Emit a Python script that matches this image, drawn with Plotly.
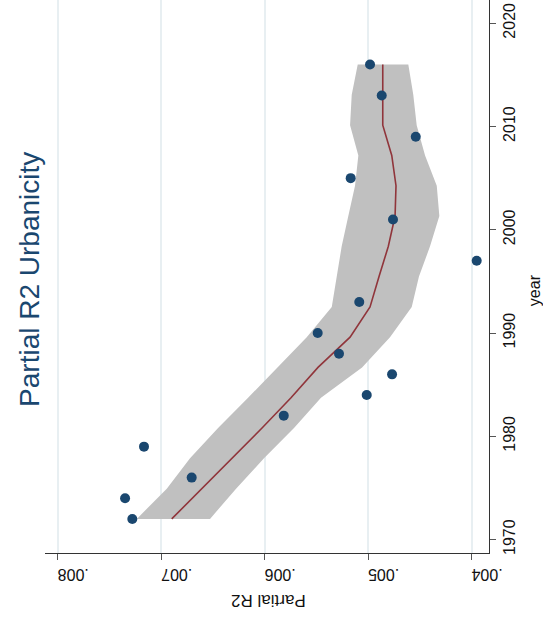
import plotly.graph_objects as go

# Observed partial R2 of urbanicity by survey year
years = [1972, 1974, 1976, 1979, 1982, 1984, 1986, 1988, 1990, 1993,
         1997, 2001, 2005, 2009, 2013, 2016]
partial_r2 = [0.007279, 0.007349, 0.006705, 0.007166, 0.005815, 0.005013,
              0.004768, 0.005281, 0.005487, 0.005085, 0.003950, 0.004759,
              0.005168, 0.004539, 0.004868, 0.004981]

# Local polynomial smooth with 95% CI, evaluated on its own year grid
fit_years = [1972.0, 1974.93, 1977.87, 1980.8, 1983.73, 1986.67, 1989.6, 1992.53,
             1995.47, 1998.4, 2001.33, 2004.27, 2007.2, 2010.13, 2013.07, 2016.0]
fit = [0.006898, 0.006605, 0.006315, 0.006025, 0.005745, 0.005484, 0.005174, 0.004981,
       0.004894, 0.004804, 0.004739, 0.004730, 0.004771, 0.004858, 0.004858, 0.004858]
ci_upper = [0.007236, 0.006946, 0.006721, 0.006450, 0.006160, 0.005880, 0.005593, 0.005351,
            0.005303, 0.005255, 0.005191, 0.005126, 0.005094, 0.005174, 0.005158, 0.005100]
ci_lower = [0.006528, 0.006276, 0.006006, 0.005716, 0.005455, 0.005058, 0.004788, 0.004578,
            0.004508, 0.004401, 0.004311, 0.004336, 0.004449, 0.004530, 0.004563, 0.004611]

r2_ticks = [0.004, 0.005, 0.006, 0.007, 0.008]
r2_labels = [".004", ".005", ".006", ".007", ".008"]
year_ticks = [1970, 1980, 1990, 2000, 2010, 2020]

NAVY = "#1a476f"
MAROON = "#90353b"
FONT = "Liberation Sans, Arial, sans-serif"

fig = go.Figure()

# confidence band as a closed polygon
fig.add_trace(go.Scatter(
    x=ci_upper + ci_lower[::-1],
    y=fit_years + fit_years[::-1],
    fill="toself", fillcolor="#c0c0c0",
    line=dict(width=0), mode="lines", hoverinfo="skip", showlegend=False))

fig.add_trace(go.Scatter(
    x=fit, y=fit_years, mode="lines",
    line=dict(color=MAROON, width=1.6), showlegend=False))

fig.add_trace(go.Scatter(
    x=partial_r2, y=years, mode="markers",
    marker=dict(color=NAVY, size=10), showlegend=False))

fig.update_layout(
    width=543, height=621,
    margin=dict(l=45, r=54, t=0, b=68),
    paper_bgcolor="white", plot_bgcolor="white",
    font=dict(family=FONT, size=16, color="black"),
    xaxis=dict(
        range=[0.008123, 0.003831],
        tickvals=r2_ticks, ticktext=r2_labels, tickangle=180,
        showgrid=True, gridcolor="#e8eff2", gridwidth=1.5,
        zeroline=False, showline=True, linecolor="#333333", linewidth=1.2,
        ticks="outside", ticklen=6, tickcolor="#555555",
        ticklabelstandoff=6,
        tickfont=dict(size=16, color="#111111"),
    ),
    yaxis=dict(
        range=[1968.7, 2022.25], side="right",
        tickvals=year_ticks, tickangle=-90,
        showgrid=False, zeroline=False,
        showline=True, linecolor="#333333", linewidth=1.2,
        ticks="outside", ticklen=6, tickcolor="#555555",
        tickfont=dict(size=16, color="#111111"),
    ),
    annotations=[
        dict(text="Partial R2 Urbanicity", xref="paper", yref="paper",
             x=-0.034, y=0.4955, showarrow=False, textangle=-90,
             xanchor="center", yanchor="middle",
             font=dict(size=28, color=NAVY, family=FONT)),
        dict(text="year", xref="paper", yref="paper",
             x=1.104, y=0.4756, showarrow=False, textangle=-90,
             xanchor="center", yanchor="middle",
             font=dict(size=16, color="#111111", family=FONT)),
        dict(text="Partial R2", xref="paper", yref="paper",
             x=0.502, y=-0.087, showarrow=False, textangle=180,
             xanchor="center", yanchor="middle",
             font=dict(size=17, color="#111111", family=FONT)),
    ],
)

fig.write_html("out.html")
